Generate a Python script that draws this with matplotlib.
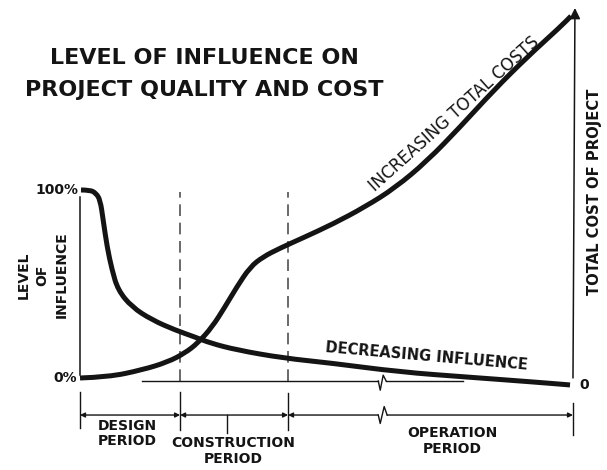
import numpy as np
import matplotlib
matplotlib.use("Agg")
import matplotlib.pyplot as plt
from matplotlib.path import Path
from matplotlib.patches import PathPatch

plt.rcParams['font.family'] = ['DejaVu Sans']

# time axis: 0 = start of design, 100 = end of the drawn life of the project
# vertical axis: level of influence in %, total cost drawn on the same scale
design_end = 20.3
construction_end = 42.2
project_end = 100.0
construction_mark = 29.8
break_at = 60.9

influence_t = [0.2, 2.0, 3.2, 4.1, 4.7, 5.5, 6.5, 7.7, 10.5, 14.6, 19.3, 23.3,
               26.4, 31.8, 41.2, 50.7, 64.9, 78.5, 91.9, 99.4]
influence_v = [100, 100, 98.4, 94.7, 84.0, 69.7, 57.4, 46.8, 37.8, 30.9, 25.5, 21.8,
               18.6, 14.9, 10.6, 8.0, 3.2, 0.5, -2.1, -3.7]

cost_t = [0, 5.7, 12.6, 17.8, 21.3, 23.9, 26.8, 29.4, 31.8, 34.5, 37.1, 40.6,
          45.2, 51.3, 57.8, 63.9, 70.4, 77.1, 83.8, 90.7, 97.4, 99.6]
cost_v = [0, 0.5, 4.3, 8.5, 13.3, 18.6, 27.1, 37.8, 48.4, 59.0, 64.4, 69.1,
          74.5, 81.9, 91.0, 101.1, 115.4, 133.5, 152.7, 170.7, 186.7, 192.5]

period_labels = ["DESIGN\nPERIOD", "CONSTRUCTION\nPERIOD", "OPERATION\nPERIOD"]
title_lines = ["LEVEL OF INFLUENCE ON", "PROJECT QUALITY AND COST"]

ink = '#141414'


def smooth_curve(t, v):
    # quadratic pieces with the read points as control points
    pts = np.column_stack([t, v])
    verts = [pts[0]]
    codes = [Path.MOVETO]
    for i in range(1, len(pts) - 1):
        verts += [pts[i], (pts[i] + pts[i + 1]) / 2]
        codes += [Path.CURVE3, Path.CURVE3]
    verts.append(pts[-1])
    codes.append(Path.LINETO)
    return Path(verts, codes)


fig = plt.figure(figsize=(6.07, 4.70), dpi=100)
ax = fig.add_axes([0, 0, 1, 1])
ax.set_xlim(-16.23, 106.9)
ax.set_ylim(-48.94, 201.06)
ax.axis('off')

# curves
for t, v in [(influence_t, influence_v), (cost_t, cost_v)]:
    ax.add_patch(PathPatch(smooth_curve(t, v), fill=False, edgecolor=ink,
                           lw=3.6, capstyle='butt', joinstyle='round', zorder=4))

# left axis (influence)
ax.plot([0, 0], [1.6, 96.3], color=ink, lw=1.1)
ax.text(-0.4, 100, "100%", ha='right', va='center', fontsize=10,
        fontweight='bold', color=ink)
ax.text(-0.6, 0, "0%", ha='right', va='center', fontsize=10,
        fontweight='bold', color=ink)
ax.text(-7.6, 54.8, "LEVEL\nOF\nINFLUENCE", rotation=90, ha='center',
        va='center', multialignment='center', fontsize=10, fontweight='bold',
        color=ink, linespacing=1.45)

# right axis (total cost)
ax.annotate("", xy=(100.4, 196.8), xytext=(100, 0),
            arrowprops=dict(arrowstyle='-|>', color=ink, lw=1.1,
                            mutation_scale=16, shrinkA=0, shrinkB=0))
ax.text(101.2, -3.7, "0", ha='left', va='center', fontsize=10,
        fontweight='bold', color=ink)
ax.text(104.3, 98.8, "TOTAL COST OF PROJECT", rotation=90, ha='center',
        va='center', fontsize=10.6, fontweight='bold', color=ink)

# period boundaries
for x in [design_end, construction_end]:
    ax.plot([x, x], [-1.6, 98.9], color='#505050', lw=1.2, dashes=(7, 4))

# baseline with break
ax.plot([12.6, break_at - 0.4], [-1.6, -1.6], color=ink, lw=1.0)
ax.plot([break_at + 1.2, 77.7], [-1.6, -1.6], color=ink, lw=1.0)
ax.plot([break_at - 0.4, break_at, break_at + 0.6, break_at + 1.2],
        [-1.6, -6.5, 1.5, -1.6], color=ink, lw=1.0)

# time line underneath
line_v = -19.7
for x, top, bottom in [(0, -7.4, -26.6), (design_end, -7.4, -27.7),
                       (construction_end, -7.9, -27.7), (project_end, -13.3, -30.3)]:
    ax.plot([x, x], [top, bottom], color=ink, lw=1.0)
ax.plot([construction_mark, construction_mark], [line_v, -29.3], color=ink, lw=1.0)

arrow = dict(color=ink, lw=1.0, mutation_scale=7, shrinkA=0, shrinkB=0)
ax.annotate("", xy=(design_end, line_v), xytext=(0, line_v),
            arrowprops=dict(arrowstyle='<|-|>', **arrow))
ax.annotate("", xy=(construction_end, line_v), xytext=(design_end, line_v),
            arrowprops=dict(arrowstyle='<|-|>', **arrow))
ax.annotate("", xy=(construction_end, line_v), xytext=(break_at - 0.4, line_v),
            arrowprops=dict(arrowstyle='-|>', **arrow))
ax.annotate("", xy=(project_end, line_v), xytext=(break_at + 1.4, line_v),
            arrowprops=dict(arrowstyle='-|>', **arrow))
ax.plot([break_at - 0.4, break_at, break_at + 0.8, break_at + 1.4],
        [line_v, line_v - 4.5, line_v + 4.5, line_v], color=ink, lw=1.0)

# period names
ax.text((0 + design_end) / 2 - 0.6, -29.5, period_labels[0], ha='center',
        va='center', fontsize=10, fontweight='bold', color=ink, linespacing=1.05)
ax.text(31.0, -38.8, period_labels[1], ha='center', va='center', fontsize=10,
        fontweight='bold', color=ink, linespacing=1.2)
ax.text(75.5, -33.5, period_labels[2], ha='center', va='center', fontsize=10,
        fontweight='bold', color=ink, linespacing=1.2)

# curve labels
ax.text(75.9, 140.6, "INCREASING TOTAL COSTS", rotation=42, ha='center',
        va='center', fontsize=12, color=ink, rotation_mode='anchor')
ax.text(70.2, 11.7, "DECREASING INFLUENCE", rotation=-5, ha='center',
        va='center', fontsize=10.5, fontweight='bold', color=ink,
        rotation_mode='anchor')

# title
ax.text(25.2, 170.2, title_lines[0], ha='center', va='center', fontsize=16,
        fontweight='bold', color=ink)
ax.text(25.2, 153.2, title_lines[1], ha='center', va='center', fontsize=16,
        fontweight='bold', color=ink)

fig.savefig("out.png", dpi=100)
